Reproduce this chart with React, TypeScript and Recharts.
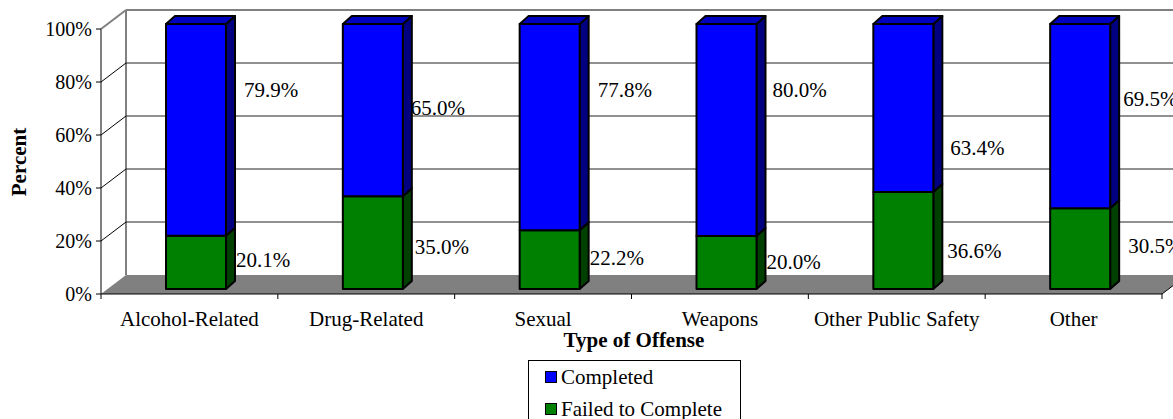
import { Bar, BarChart, CartesianGrid, LabelList, Legend, XAxis, YAxis } from "recharts";

const CATEGORIES = ["Alcohol-Related", "Drug-Related", "Sexual", "Weapons", "Other Public Safety", "Other"];
const COMPLETED = [79.9, 65.0, 77.8, 80.0, 63.4, 69.5];
const FAILED = [20.1, 35.0, 22.2, 20.0, 36.6, 30.5];
const Y_TICKS = [0, 20, 40, 60, 80, 100];
const LEGEND_ORDER = ["Completed", "Failed to Complete"];

const data = CATEGORIES.map((name, i) => ({ name, completed: COMPLETED[i], failed: FAILED[i] }));

// layout
const W = 1173;
const H = 419;
const PLOT = { left: 108, top: 24, right: 1169, bottom: 289 };
const FRONT = { dx: -7, dy: 5 }; // front (axis) plane relative to bar plane
const BACK = { dx: 18, dy: -14 }; // back wall relative to bar plane
const DEPTH = { dx: 9, dy: 8 }; // bar depth
const SERIF = '"Liberation Serif", "Times New Roman", serif';
const GREY = "#808080";

// hand-placed label nudges (x gap from bar edge, y shift from segment middle)
const COMPLETED_LABEL_SHIFT = [[18, -40], [8, -2], [18, -37], [16, -40], [17, 40], [13, -17]];
const FAILED_LABEL_SHIFT = [[10, -2], [12, 4], [10, -2], [10, -1], [14, 10], [18, -3]];

const COLORS = {
  completed: { front: "#0000FF", side: "#000080", top: "#0000C0" },
  failed: { front: "#008000", side: "#004000", top: "#006000" },
};

function makeBox(c: { front: string; side: string; top: string }, withTop: boolean) {
  return (p: any) => {
    const { x, y, width: w, height: h } = p;
    if (h == null || w == null) return <g />;
    const { dx, dy } = DEPTH;
    return (
      <g stroke="#000" strokeWidth={2} strokeLinejoin="round">
        <polygon
          points={`${x + w},${y} ${x + w + dx},${y - dy} ${x + w + dx},${y + h - dy} ${x + w},${y + h}`}
          fill={c.side}
        />
        {withTop && (
          <polygon points={`${x},${y} ${x + dx},${y - dy} ${x + w + dx},${y - dy} ${x + w},${y}`} fill={c.top} />
        )}
        <rect x={x} y={y} width={w} height={h} fill={c.front} />
      </g>
    );
  };
}

function makeLabel(shift: number[][]) {
  return (p: any) => {
    const { x, y, width, height, value, index } = p;
    const [gx, gy] = shift[index] || [12, 0];
    return (
      <text
        x={x + width + gx}
        y={y + height / 2 + gy}
        textAnchor="start"
        dominantBaseline="central"
        fontFamily={SERIF}
        fontSize={21}
        fill="#000"
      >
        {Number(value).toFixed(1)}%
      </text>
    );
  };
}

function YTick(p: any) {
  const { y, payload } = p;
  const fx = PLOT.left + FRONT.dx;
  const fy = y + FRONT.dy;
  const bx = PLOT.left + BACK.dx;
  const by = y + BACK.dy;
  const v = payload.value;
  return (
    <g>
      {v > 0 && (
        <line
          x1={fx}
          y1={fy}
          x2={bx}
          y2={by}
          stroke={v === 100 ? GREY : "#000"}
          strokeWidth={v === 100 ? 2 : 1}
        />
      )}
      <line x1={fx - 5} y1={fy} x2={fx} y2={fy} stroke="#000" strokeWidth={1} />
      <text x={fx - 9} y={fy} textAnchor="end" dominantBaseline="central" fontFamily={SERIF} fontSize={20} fill="#000">
        {v}%
      </text>
    </g>
  );
}

function XTick(p: any) {
  const { x, payload } = p;
  return (
    <text x={x + FRONT.dx} y={PLOT.bottom + 37} textAnchor="middle" fontFamily={SERIF} fontSize={21} fill="#000">
      {payload.value}
    </text>
  );
}

function GridLine(p: any) {
  const { y1, index } = p;
  if (y1 >= PLOT.bottom - 0.5) return <g key={`g${index}`} />;
  const top = y1 <= PLOT.top + 0.5;
  return (
    <line
      key={`g${index}`}
      x1={PLOT.left + BACK.dx}
      y1={y1 + BACK.dy}
      x2={W}
      y2={y1 + BACK.dy}
      stroke={top ? GREY : "#222"}
      strokeWidth={top ? 2 : 1}
    />
  );
}

function LegendBox({ payload }: any) {
  const items = [...(payload || [])].sort(
    (a: any, b: any) => LEGEND_ORDER.indexOf(a.value) - LEGEND_ORDER.indexOf(b.value)
  );
  return (
    <div
      style={{
        border: "1px solid #000",
        height: 80,
        boxSizing: "border-box",
        padding: "0 0 0 16px",
        fontFamily: SERIF,
        fontSize: 21,
        background: "#fff",
      }}
    >
      {items.map((it: any) => (
        <div key={it.value} style={{ display: "flex", alignItems: "center", height: 32 }}>
          <span
            style={{
              display: "inline-block",
              width: 10,
              height: 10,
              background: it.color,
              border: "1.5px solid #000",
              marginRight: 4,
            }}
          />
          <span>{it.value}</span>
        </div>
      ))}
    </div>
  );
}

function Frame() {
  // static 3D box around the plot: floor, back-wall edge, front axes
  const fl = PLOT.left + FRONT.dx;
  const fb = PLOT.bottom + FRONT.dy;
  const fr = PLOT.right + FRONT.dx;
  const depthX = BACK.dx - FRONT.dx;
  const depthY = BACK.dy - FRONT.dy;
  const band = (PLOT.right - PLOT.left) / CATEGORIES.length;
  return (
    <svg width={W} height={H} style={{ position: "absolute", left: 0, top: 0 }}>
      <polygon
        points={`${fl},${fb} ${fl + depthX},${fb + depthY} ${fr + depthX},${fb + depthY} ${fr},${fb}`}
        fill={GREY}
      />
      <line x1={fr} y1={fb} x2={fr + depthX} y2={fb + depthY} stroke="#000" strokeWidth={1} />
      <line x1={fl + depthX} y1={PLOT.top + BACK.dy} x2={fl + depthX} y2={fb + depthY} stroke={GREY} strokeWidth={2} />
      <line x1={fl} y1={PLOT.top + FRONT.dy} x2={fl} y2={fb + 5} stroke="#000" strokeWidth={1} />
      <line x1={fl} y1={fb} x2={fr} y2={fb} stroke="#000" strokeWidth={1} />
      {CATEGORIES.map((_, i) => (
        <line key={i} x1={fl + (i + 1) * band} y1={fb} x2={fl + (i + 1) * band} y2={fb + 5} stroke="#000" />
      ))}
    </svg>
  );
}

export default function App() {
  return (
    <div style={{ position: "absolute", left: 0, top: 0, width: W, height: H, background: "#fff", overflow: "hidden" }}>
      <Frame />
      <div style={{ position: "absolute", left: 0, top: 0 }}>
        <BarChart width={W} height={H} data={data} margin={{ top: 24, right: 4, left: 48, bottom: 100 }} barSize={60}>
          <CartesianGrid vertical={false} horizontal={GridLine as any} />
          <XAxis
            dataKey="name"
            height={30}
            axisLine={false}
            tickLine={false}
            tick={XTick}
            interval={0}
            label={() => (
              <text x={634} y={347} textAnchor="middle" fontFamily={SERIF} fontSize={21} fontWeight="bold" fill="#000">
                Type of Offense
              </text>
            )}
          />
          <YAxis
            type="number"
            domain={[0, 100]}
            ticks={Y_TICKS}
            width={60}
            axisLine={false}
            tickLine={false}
            tick={YTick}
            label={() => (
              <text
                x={19}
                y={162}
                transform="rotate(-90 19 162)"
                textAnchor="middle"
                dominantBaseline="central"
                fontFamily={SERIF}
                fontSize={21}
                fontWeight="bold"
                fill="#000"
              >
                Percent
              </text>
            )}
          />
          <Legend
            layout="horizontal"
            verticalAlign="middle"
            align="center"
            content={LegendBox}
            wrapperStyle={{ position: "absolute", left: 528, top: 360, width: 213, height: 80 }}
          />
          <Bar
            dataKey="failed"
            name="Failed to Complete"
            stackId="s"
            fill={COLORS.failed.front}
            shape={makeBox(COLORS.failed, false)}
            isAnimationActive={false}
          >
            <LabelList dataKey="failed" content={makeLabel(FAILED_LABEL_SHIFT)} />
          </Bar>
          <Bar
            dataKey="completed"
            name="Completed"
            stackId="s"
            fill={COLORS.completed.front}
            shape={makeBox(COLORS.completed, true)}
            isAnimationActive={false}
          >
            <LabelList dataKey="completed" content={makeLabel(COMPLETED_LABEL_SHIFT)} />
          </Bar>
        </BarChart>
      </div>
    </div>
  );
}
